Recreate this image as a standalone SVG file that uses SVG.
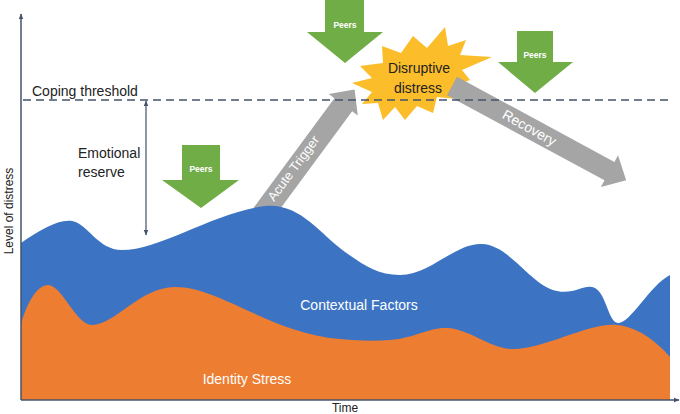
<svg xmlns="http://www.w3.org/2000/svg" width="680" height="414" viewBox="0 0 680 414">
<defs>
<style>
.lbl{font-family:"Liberation Sans",Arial,sans-serif;fill:#222;}
.wht{font-family:"Liberation Sans",Arial,sans-serif;fill:#fff;}
.peers{font-family:"Liberation Sans",Arial,sans-serif;fill:#fff;font-size:8.5px;font-weight:bold;text-anchor:middle;}
.green{fill:#70AD47;}
.gray{fill:#A5A5A5;}
.axis{stroke:#44546A;stroke-width:1.5;fill:none;}
</style>
<marker id="ah" viewBox="0 0 10 10" refX="9" refY="5" markerWidth="6" markerHeight="6" orient="auto-start-reverse" markerUnits="userSpaceOnUse">
<path d="M0,1 L10,5 L0,9 Z" fill="#44546A"/>
</marker>
</defs>
<rect width="680" height="414" fill="#fff"/>

<g id="acute-trigger">
<polygon class="gray" transform="translate(262,215) rotate(-53.6)" points="0,-11 137,-11 137,-18 156,0 137,18 137,11 0,11"/>
<text class="wht" font-size="13" text-anchor="middle" transform="translate(297,171) rotate(-53.6)">Acute Trigger</text>
</g>

<g id="contextual-factors">
<path fill="#3C74C3" d="M21,243 C40,230 58,219 72,221 C88,224 98,250 122,250 C160,250 215,212 265,206 C300,203 318,232 345,252 C365,266 378,275 400,275 C430,275 455,243 482,244 C510,245 530,285 557,291 C575,295 585,283 595,288 C607,295 608,322 618,323 C630,324 650,285 670,275 L670,400 L21,400 Z"/>
<text class="wht" font-size="14" x="359" y="310" text-anchor="middle">Contextual Factors</text>
</g>

<g id="identity-stress">
<path fill="#ED7D31" d="M21,324 C28,300 38,285 48,285 C62,285 76,325 92,325 C115,325 140,287 175,287 C220,287 270,333 340,339 C360,341 375,341 390,340 C415,338 430,327 447,328 C470,329 490,349 513,349 C545,349 590,322 617,325 C640,327 660,345 670,357 L670,400 L21,400 Z"/>
<text class="wht" font-size="14" x="247" y="384" text-anchor="middle">Identity Stress</text>
</g>

<g id="disruptive-distress">
<polygon fill="#FCBD2A" points="382,46 401,53 413,36 427,48 445,27 448,46 466,40 460,55 492,57 462,70 470,80 455,86 457,99 437,97 433,113 417,106 405,120 395,107 383,120 378,103 362,104 372,92 352,83 372,78 360,66 383,63"/>
<text class="lbl" font-size="14" x="419" y="73" text-anchor="middle" fill="#111">Disruptive</text>
<text class="lbl" font-size="14" x="418" y="93" text-anchor="middle" fill="#111">distress</text>
</g>

<g id="recovery">
<polygon class="gray" transform="translate(452,86) rotate(28.4)" points="0,-10.5 179,-10.5 179,-18 198,0 179,18 179,10.5 0,10.5"/>
<text class="wht" font-size="14" text-anchor="middle" transform="translate(527,132) rotate(29.5)">Recovery</text>
</g>

<g id="peers-1">
<polygon class="green" points="182,145 220,145 220,180 239,180 201,208 162,180 182,180"/>
<text class="peers" x="201" y="172">Peers</text>
</g>
<g id="peers-2">
<polygon class="green" points="325,-1 364,-1 364,32 383,32 345,63 307,32 325,32"/>
<text class="peers" x="345" y="28">Peers</text>
</g>
<g id="peers-3">
<polygon class="green" points="517,31 553,31 553,62 573,62 535,93 498,62 517,62"/>
<text class="peers" x="535" y="58">Peers</text>
</g>

<g id="connectors">
<line class="axis" x1="21" y1="400" x2="21" y2="14" marker-end="url(#ah)"/>
<line class="axis" x1="21" y1="400" x2="679" y2="400" marker-end="url(#ah)"/>
<line x1="23" y1="100" x2="670" y2="100" stroke="#44546A" stroke-width="1.5" stroke-dasharray="8,5"/>
<line x1="146" y1="235" x2="146" y2="101" stroke="#44546A" stroke-width="1.2" marker-start="url(#ah)" marker-end="url(#ah)"/>
</g>

<g id="labels">
<text class="lbl" font-size="14" x="32" y="96">Coping threshold</text>
<text class="lbl" font-size="14" x="78" y="158">Emotional</text>
<text class="lbl" font-size="14" x="78" y="177">reserve</text>
<text class="lbl" font-size="12" text-anchor="middle" transform="translate(13,211) rotate(-90)">Level of distress</text>
<text class="lbl" font-size="12" x="345" y="412" text-anchor="middle">Time</text>
</g>
</svg>
